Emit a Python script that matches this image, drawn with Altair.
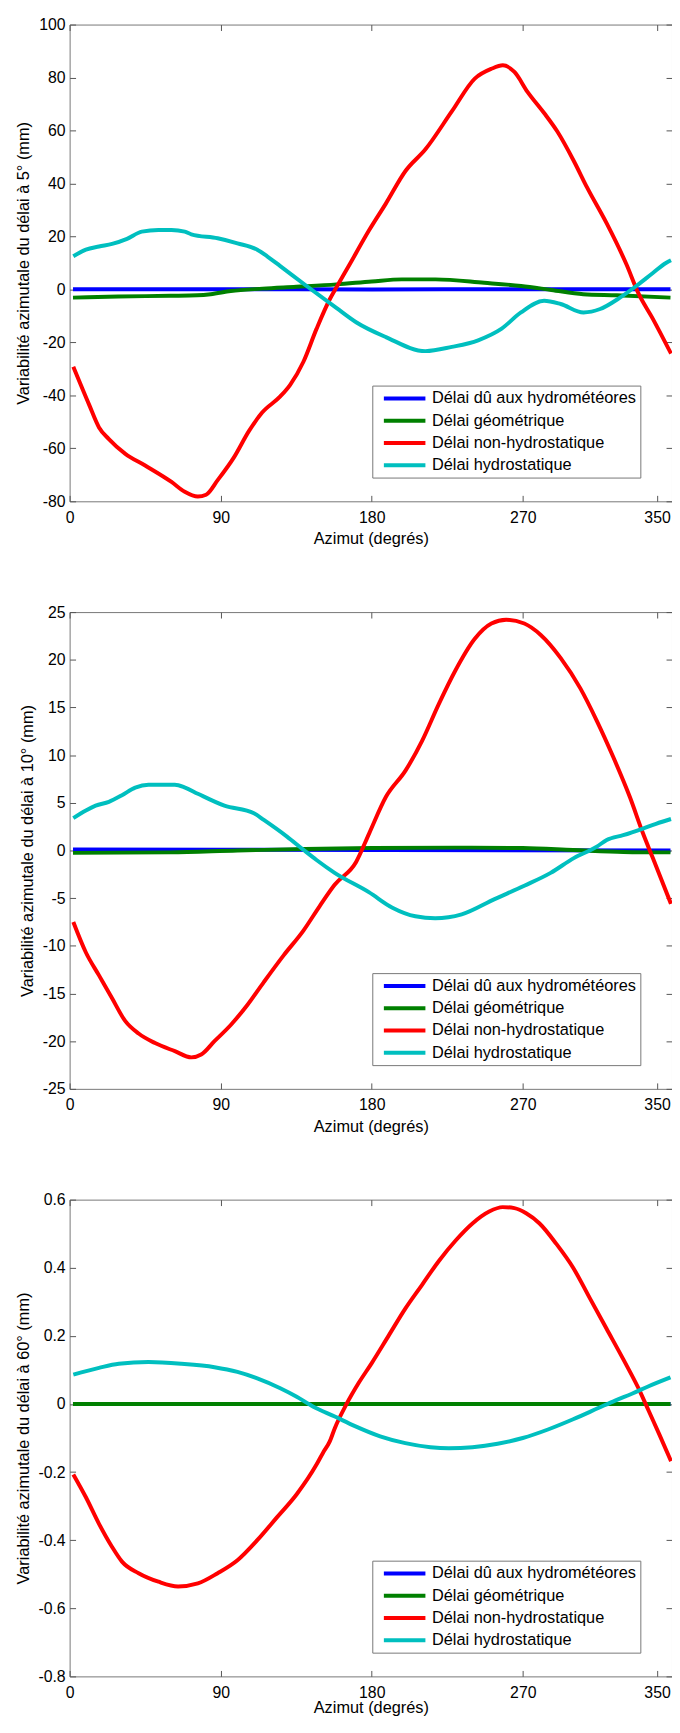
import altair as alt
import pandas as pd

FONT = "Liberation Sans"
SERIES = ["Délai dû aux hydrométéores", "Délai géométrique",
          "Délai non-hydrostatique", "Délai hydrostatique"]
COLORS = ["#0000ff", "#008000", "#ff0000", "#00bfbf"]
X_TICKS = [0, 90, 180, 270, 350]

# ---------------- panel 1 : 5 degrees ----------------
Y5_TICKS = [-80, -60, -40, -20, 0, 20, 40, 60, 80, 100]
AZ5_BLUE = [2, 90, 180, 270, 358]
V5_BLUE = [0.1, 0.1, 0.0, 0.1, 0.1]
AZ5_GREEN = [2, 29, 60, 76, 84, 96, 115, 135, 159, 180, 198, 218, 247, 269, 287, 306, 326, 358]
V5_GREEN = [-3.1, -2.7, -2.4, -2.2, -1.8, -0.6, 0.3, 1.0, 1.9, 3.0, 3.8, 3.8, 2.5, 1.3, -0.2, -1.8, -2.2, -3.1]
AZ5_RED = [2.2, 11.6, 17.5, 23.4, 33.2, 45, 60.7, 68.6, 76.4, 81.3, 88.2, 98, 106.9, 114.7, 125.5,
           131.4, 139.3, 147.1, 155, 158.9, 166.8, 178.5, 188.4, 200.2, 212, 227.7, 241.4, 251.3,
           258.1, 265, 272.8, 282.7, 290.5, 300.4, 308.2, 320, 331.8, 338.7, 347.5, 358.3]
V5_RED = [-29.2, -43.5, -52.1, -56.5, -62.1, -66.5, -72.7, -76.4, -78.2, -77.5, -72.0, -63.3, -53.4,
          -46.5, -40.4, -36.0, -27.3, -14.9, -3.7, 0.7, 9.4, 22.4, 32.4, 44.8, 52.9, 67.2, 79.6, 83.3,
          84.6, 82.1, 74.6, 66.6, 59.7, 48.5, 38.6, 24.9, 9.4, -1.2, -11.1, -24.2]
AZ5_CYAN = [2.2, 9.7, 17.5, 25.3, 34.2, 43, 52.9, 60.7, 68.6, 72.5, 88.2, 100, 111.8, 117.7, 125.5,
            141.2, 158.9, 170.7, 188.4, 212, 227.7, 243.4, 257.2, 268.9, 282.7, 292.5, 306.2, 316.1,
            327.9, 337.6, 347.5, 355.3, 358.3]
V5_CYAN = [12.5, 15.0, 16.2, 17.2, 19.1, 21.8, 22.4, 22.4, 21.8, 20.8, 19.3, 17.4, 15.0, 12.5, 8.8,
           1.3, -7.0, -12.4, -18.0, -23.3, -21.7, -19.2, -14.9, -8.7, -4.3, -5.5, -8.7, -7.4,
           -3.1, 1.3, 6.2, 10.0, 11.0]

# ---------------- panel 2 : 10 degrees ----------------
Y10_TICKS = [-25, -20, -15, -10, -5, 0, 5, 10, 15, 20, 25]
AZ10_BLUE = [2, 180, 358]
V10_BLUE = [0.1, 0.05, 0.0]
AZ10_GREEN = [2, 60, 100, 140, 180, 230, 270, 300, 330, 358]
V10_GREEN = [-0.25, -0.2, 0.0, 0.15, 0.25, 0.3, 0.25, 0.05, -0.15, -0.2]
AZ10_RED = [2.2, 9.7, 17.5, 25.3, 33.2, 41.1, 50.9, 62.7, 72.5, 78.4, 86.3, 96, 105.9, 115.7, 127.5,
            139.3, 149.1, 157.9, 170.7, 178.5, 188.4, 200.2, 210, 219.8, 229.6, 241.4, 251.3, 260.1,
            270.9, 280.7, 292.5, 304.3, 314.1, 323.9, 333.8, 341.6, 347.5, 358.3]
V10_RED = [-7.5, -10.7, -13.1, -15.5, -17.9, -19.2, -20.2, -21.05, -21.7, -21.4, -20.0, -18.3, -16.2,
           -13.8, -11.0, -8.4, -5.8, -3.6, -1.2, 1.8, 5.6, 8.4, 11.5, 15.3, 18.8, 22.2, 23.8, 24.2,
           23.8, 22.6, 20.2, 17.0, 13.6, 9.8, 5.6, 1.8, -0.8, -5.6]
AZ10_CYAN = [2.2, 9.7, 15.5, 23.4, 31.2, 39.1, 47, 62.7, 68.8, 76.4, 92.2, 109.8, 115.7, 129.5, 139.3,
             147.1, 157.9, 178.5, 192.3, 206, 217.8, 233.6, 253.2, 270.9, 286.6, 300.4, 314.1, 320,
             329.8, 341.6, 349.4, 358.3]
V10_CYAN = [3.4, 4.2, 4.7, 5.1, 5.8, 6.6, 6.9, 6.9, 6.6, 5.95, 4.7, 3.9, 3.2, 1.45, 0.07,
            -1.0, -2.35, -4.4, -6.0, -6.9, -7.1, -6.7, -5.1, -3.7, -2.35, -0.8, 0.4, 1.1,
            1.6, 2.3, 2.8, 3.3]

# ---------------- panel 3 : 60 degrees ----------------
Y60_TICKS = [-0.8, -0.6, -0.4, -0.2, 0, 0.2, 0.4, 0.6]
AZ60_BLUE = [2, 358]
V60_BLUE = [0.0, 0.0]
AZ60_GREEN = [2, 358]
V60_GREEN = [0.0, 0.0]
AZ60_RED = [2.2, 9.7, 17.5, 25.3, 31.2, 41.1, 52.9, 64.6, 76.4, 88.2, 100, 111.8, 123.5, 135.3, 147.1,
            151, 155, 158, 165, 172, 180, 190, 200, 210, 220, 230, 240, 250, 258, 265, 272, 280,
            290, 300, 310, 320, 330, 340, 345, 351.4, 358.3]
V60_RED = [-0.207, -0.274, -0.352, -0.42, -0.463, -0.497, -0.522, -0.536, -0.527, -0.497, -0.459,
           -0.40, -0.333, -0.265, -0.178, -0.143, -0.11, -0.071, 0.0, 0.06, 0.12, 0.2, 0.28, 0.35,
           0.42, 0.48, 0.53, 0.565, 0.578, 0.575, 0.56, 0.53, 0.47, 0.40, 0.31, 0.22, 0.13, 0.035,
           -0.02, -0.09, -0.168]
AZ60_CYAN = [2.2, 17.5, 29.3, 47, 66.6, 86.3, 100, 111.8, 125.5, 135.3, 145.2, 158, 170, 185, 200,
             215, 226, 240, 255, 270, 285, 300, 315, 325, 335, 345, 358]
V60_CYAN = [0.086, 0.106, 0.118, 0.123, 0.118, 0.108, 0.094, 0.075, 0.046, 0.021, -0.008, -0.037,
            -0.065, -0.095, -0.115, -0.127, -0.13, -0.127, -0.117, -0.1, -0.075, -0.045, -0.012,
            0.01, 0.03, 0.052, 0.078]


def make_df(series):
    rows = []
    for name, az, val in series:
        for a, v in zip(az, val):
            rows.append({"az": a, "val": v, "serie": name})
    return pd.DataFrame(rows)


df5 = make_df([(SERIES[0], AZ5_BLUE, V5_BLUE), (SERIES[1], AZ5_GREEN, V5_GREEN),
               (SERIES[2], AZ5_RED, V5_RED), (SERIES[3], AZ5_CYAN, V5_CYAN)])
df10 = make_df([(SERIES[0], AZ10_BLUE, V10_BLUE), (SERIES[1], AZ10_GREEN, V10_GREEN),
                (SERIES[2], AZ10_RED, V10_RED), (SERIES[3], AZ10_CYAN, V10_CYAN)])
df60 = make_df([(SERIES[0], AZ60_BLUE, V60_BLUE), (SERIES[1], AZ60_GREEN, V60_GREEN),
                (SERIES[2], AZ60_RED, V60_RED), (SERIES[3], AZ60_CYAN, V60_CYAN)])

LABEL = "'' + datum.value"
PLOT_W = 609
PLOT_H = 482


def panel(df, ydom, yticks, ytitle, xtitle_pad):
    xs = alt.Scale(domain=[0, 358.9], nice=False, zero=False)
    ys = alt.Scale(domain=ydom, nice=False, zero=False)
    lines = alt.Chart(df).mark_line(strokeWidth=4, clip=True, interpolate="monotone").encode(
        x=alt.X("az:Q", scale=xs,
                axis=alt.Axis(orient="bottom", values=X_TICKS, labelExpr=LABEL, offset=-6,
                              tickSize=6, domain=False, grid=False, labelPadding=8,
                              labelFlush=False, title="Azimut (degrés)",
                              titlePadding=xtitle_pad)),
        y=alt.Y("val:Q", scale=ys,
                axis=alt.Axis(orient="left", values=yticks, labelExpr=LABEL, offset=-6,
                              tickSize=6, domain=False, grid=False, labelPadding=4.5,
                              labelFlush=False, title=ytitle, titlePadding=7)),
        color=alt.Color("serie:N", scale=alt.Scale(domain=SERIES, range=COLORS),
                        legend=alt.Legend(title=None, orient="none", legendX=306, legendY=365,
                                          direction="vertical", symbolType="M-3,0H3",
                                          symbolSize=196, symbolStrokeWidth=4,
                                          symbolOffset=19.7, labelOffset=18.6, padding=4,
                                          rowPadding=4.5, labelFont=FONT, labelFontSize=16.5,
                                          labelColor="#000000", labelLimit=400,
                                          strokeColor="#777777", fillColor="#ffffff")),
    )
    frame = alt.Chart(df).mark_point(opacity=0).encode(
        x=alt.X("az:Q", scale=xs,
                axis=alt.Axis(orient="top", values=X_TICKS, labels=False, offset=-6,
                              tickSize=6, domain=False, grid=False, title=None)),
        y=alt.Y("val:Q", scale=ys,
                axis=alt.Axis(orient="right", values=yticks, labels=False, offset=-6,
                              tickSize=6, domain=False, grid=False, title=None)),
    )
    return alt.layer(lines, frame).resolve_axis(x="independent", y="independent").properties(
        width=PLOT_W, height=PLOT_H)


p1 = panel(df5, [-80, 100], Y5_TICKS, "Variabilité azimutale du délai à 5° (mm)", 6)
p2 = panel(df10, [-25, 25], Y10_TICKS, "Variabilité azimutale du délai à 10° (mm)", 6)
p3 = panel(df60, [-0.8, 0.6], Y60_TICKS, "Variabilité azimutale du délai à 60° (mm)", 0)

PAD_L = 62.3
PAD_T = 7.3
chart = alt.vconcat(p1, p2, p3, spacing=112, bounds="flush").resolve_scale(
    x="independent", y="independent", color="independent"
).properties(
    autosize=alt.AutoSizeParams(type="none"),
    padding={"left": PAD_L, "top": PAD_T, "right": 0, "bottom": 1717 - PAD_T}
).configure(font=FONT).configure_axis(
    labelFont=FONT, labelFontSize=16, labelColor="#000000",
    titleFont=FONT, titleFontSize=16.5, titleFontWeight="normal", titleColor="#000000",
    tickColor="#555555", tickWidth=1
).configure_view(stroke="#777777", strokeWidth=1)

chart.save("out.html", embed_options={"renderer": "svg", "actions": False})
